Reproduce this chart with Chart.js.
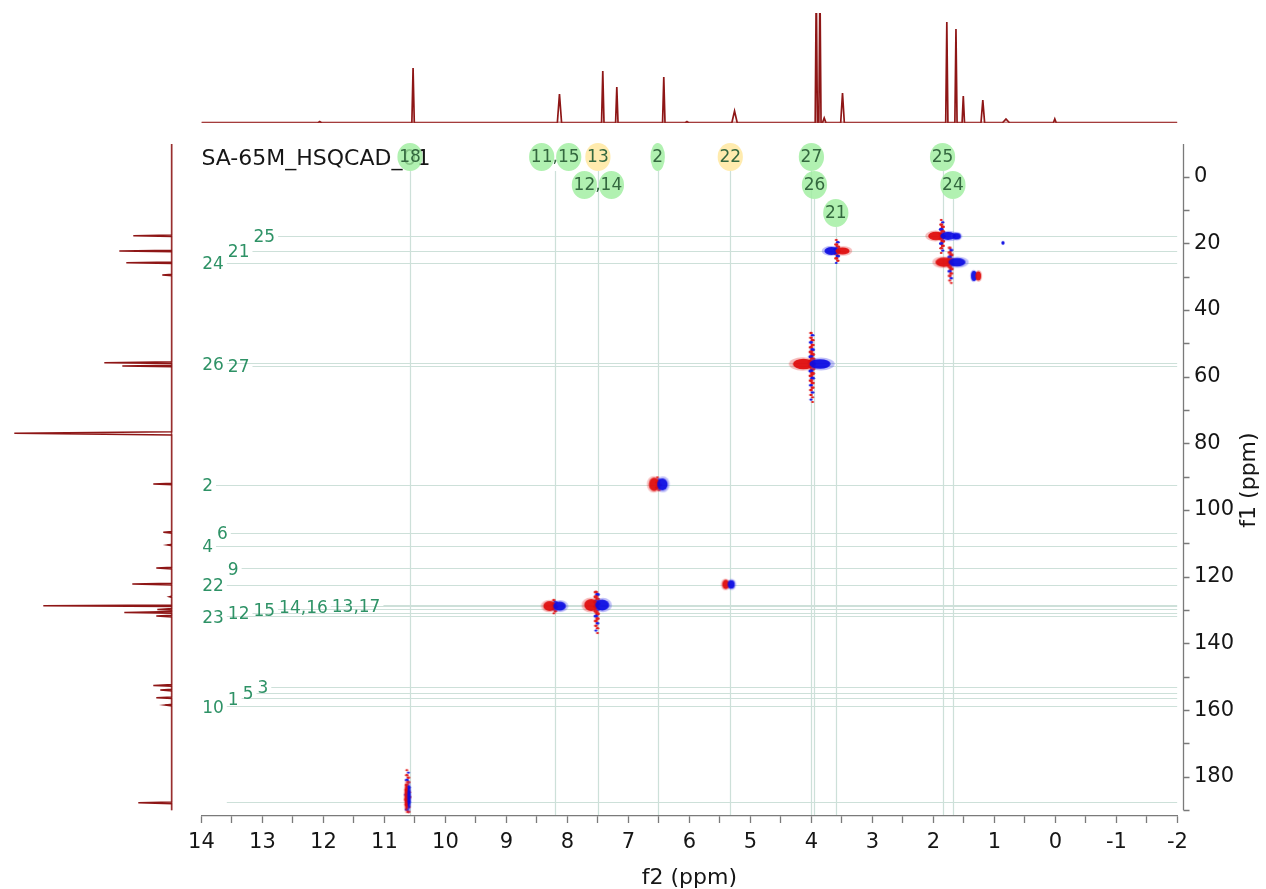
<!DOCTYPE html>
<html>
<head>
<meta charset="utf-8">
<title>HSQC SA-65M</title>
<script src="https://cdn.jsdelivr.net/npm/chart.js@4.4.1/dist/chart.umd.min.js"></script>
<style>
  html, body { margin: 0; padding: 0; background: #ffffff; }
  #wrap { position: relative; width: 1266px; height: 889px; overflow: hidden; }
  #wrap canvas { position: absolute; left: 0; top: 0; }
</style>
</head>
<body>
<div id="wrap">
  <canvas id="main" width="1266" height="889"></canvas>
  <canvas id="proton" width="1266" height="140"></canvas>
  <canvas id="carbon" width="200" height="889"></canvas>
</div>
<script>
// ---------------- spectrum data ----------------
const sampleName = 'SA-65M_HSQCAD_01';

// f2 (1H) projection: peak position (ppm), height, half base width (ppm)
const protonPeakPpm    = [12.06, 10.53, 8.13, 7.42, 7.19, 6.42, 6.04, 5.26, 3.92, 3.86, 3.79, 3.49, 1.78, 1.63, 1.51, 1.19, 0.81, 0.01];
const protonPeakHeight = [1.5, 55, 29, 52, 36, 46, 1.5, 12, 140, 140, 5, 30, 101, 94, 27, 23, 4, 4];
const protonPeakWidth  = [0.03, 0.02, 0.035, 0.02, 0.02, 0.02, 0.03, 0.045, 0.018, 0.018, 0.03, 0.03, 0.018, 0.018, 0.02, 0.03, 0.06, 0.025];

// f1 (13C) projection
const carbonPeakPpm    = [17.75, 22.34, 25.85, 29.54, 55.83, 56.82, 77.0, 92.2, 106.7, 110.5, 117.4, 122.2, 126.0, 128.7, 129.8, 130.7, 131.8, 152.6, 154.0, 156.3, 158.5, 187.8];
const carbonPeakHeight = [39, 53, 46, 10, 68, 50, 158, 19, 9, 5, 16, 40, 3, 129, 15, 48, 16, 19, 12, 16, 7, 34];
const carbonPeakWidth  = [0.25, 0.25, 0.25, 0.25, 0.25, 0.25, 0.5, 0.25, 0.25, 0.25, 0.25, 0.25, 0.25, 0.25, 0.25, 0.25, 0.25, 0.25, 0.25, 0.25, 0.25, 0.25];

// HSQC cross peaks: centre (1H, 13C), half widths, t1 streak extent, phase
const peakH      = [3.995, 6.51, 5.36, 8.21, 7.52, 10.62, 3.58, 1.86, 1.62, 1.72, 1.30, 0.86];
const peakC      = [56.2, 92.3, 122.3, 128.8, 128.5, 186.0, 22.3, 17.8, 17.9, 25.7, 29.8, 19.9];
const peakHW     = [0.30, 0.15, 0.10, 0.18, 0.20, 0.05, 0.20, 0.22, 0.07, 0.24, 0.08, 0.025];
const peakCW     = [1.6, 2.0, 1.4, 1.5, 1.8, 4.0, 1.2, 1.3, 1.0, 1.4, 1.5, 0.5];
const peakTailLo = [46.9, 90.2, 122.3, 127.0, 124.6, 178.0, 19.0, 13.0, 17.9, 21.4, 29.8, 19.9];
const peakTailHi = [67.6, 94.0, 122.3, 131.0, 136.9, 190.5, 25.9, 22.9, 17.9, 31.9, 29.8, 19.9];
const peakPhase  = [1, 1, 1, 1, 1, 1, -1, 1, 0, 1, -1, 0];   // 1: red|blue, -1: blue|red, 0: blue only

// 1H assignments (bubbles along the top)
const protonLabels = ['18', '11,15', '13', '12,14', '2', '22', '27', '26', '21', '25', '24'];
const protonShifts = [10.58, 8.20, 7.50, 7.50, 6.52, 5.33, 4.00, 3.95, 3.60, 1.85, 1.68];
const protonKind   = ['g', 'g', 'y', 'g', 'g', 'y', 'g', 'g', 'g', 'g', 'g'];

// 13C assignments (labels on the left)
const carbonLabels  = ['24', '21', '25', '26', '27', '2', '4', '6', '22', '9', '23', '12', '15', '14,16', '13,17', '10', '1', '5', '3', '18'];
const carbonShifts  = [25.9, 22.2, 17.7, 56.0, 56.7, 92.5, 110.7, 106.9, 122.5, 117.5, 131.9, 130.9, 129.8, 128.9, 128.6, 158.8, 156.5, 154.8, 153.0, 187.6];
const carbonVisible = [true, true, true, true, true, true, true, true, true, true, true, true, true, true, true, true, true, true, true, false];

// axis ranges
const f2Range = [-2, 14];
const f1Range = [-9.75, 191.75];
const f1AxisEnd = 190;

// ---------------- styles ----------------
const FONT = '"DejaVu Sans", Verdana, sans-serif';
const AXIS = '#7a7a7a';
const TEXT = '#161616';
const GUIDE = 'rgba(196,218,210,0.85)';
const SPEC = '#8e1616';
const SPEC_BASE_TOP = 'rgba(160,45,45,0.55)';
const SPEC_BASE_LEFT = 'rgba(140,22,22,0.8)';
const RED = 'rgba(224,12,12,0.93)';
const BLUE = 'rgba(12,12,226,0.93)';
const RED_HALO = 'rgba(230,70,70,0.35)';
const BLUE_HALO = 'rgba(70,70,235,0.35)';
const LABEL_FONT = '17px ' + FONT;
const LABEL_GREEN = '#2e9266';
const BUBBLE_TEXT = '#34683f';
const BUBBLE_FILL = { g: 'rgba(160,238,160,0.82)', y: 'rgba(255,232,160,0.85)' };

// ---------------- helpers ----------------
function spikeLine(pos, hts, wid, lo, hi, asY) {
  // ordered list of spike points on a flat baseline
  const idx = pos.map((_, i) => i).sort((a, b) => pos[a] - pos[b]);
  const pts = [];
  const push = (p, v) => pts.push(asY ? { x: v, y: p } : { x: p, y: v });
  push(lo, 0);
  idx.forEach(i => {
    push(pos[i] - wid[i], 0);
    push(pos[i], hts[i]);
    push(pos[i] + wid[i], 0);
  });
  push(hi, 0);
  return pts;
}

function ell(g, x, y, rx, ry) {
  g.beginPath();
  g.ellipse(x, y, Math.max(rx, 0.6), Math.max(ry, 0.6), 0, 0, Math.PI * 2);
  g.fill();
}

// contour sprite for one cross peak, sized through the chart's scales
function peakSprite(chart, i) {
  const xs = chart.scales.x, ys = chart.scales.y;
  const cx = xs.getPixelForValue(peakH[i]);
  const cy = ys.getPixelForValue(peakC[i]);
  const hw = Math.abs(xs.getPixelForValue(peakH[i] + peakHW[i]) - cx);
  const hh = Math.abs(ys.getPixelForValue(peakC[i] + peakCW[i]) - cy);
  const t0 = ys.getPixelForValue(peakTailLo[i]) - cy;
  const t1 = ys.getPixelForValue(peakTailHi[i]) - cy;
  if (![hw, hh, t0, t1].every(Number.isFinite)) return null;
  const W = Math.ceil(hw * 1.3 + 8);
  const H = Math.ceil(Math.max(hh * 1.3, -t0, t1) + 8);
  const c = document.createElement('canvas');
  c.width = 2 * W; c.height = 2 * H;
  const g = c.getContext('2d');
  g.filter = 'blur(0.6px)';
  g.translate(W, H);
  const ph = peakPhase[i];
  // t1 noise streak: a chain of small red / blue spots
  if (t1 - t0 > 1) {
    const n = Math.max(2, Math.round((t1 - t0) / 2.4));
    const reach = Math.max(-t0, t1);
    for (let k = 0; k <= n; k++) {
      const yy = t0 + (t1 - t0) * k / n;
      const f = 1 - 0.5 * Math.abs(yy) / reach;
      g.fillStyle = (k % 3 === 1) ? BLUE : RED;
      ell(g, (k % 2 ? 0.8 : -0.8), yy, 3.0 * f, 2.0 * f);
    }
  }
  if (ph === 0) {
    g.fillStyle = BLUE_HALO; ell(g, 0, 0, hw * 1.3, hh * 1.3);
    g.fillStyle = BLUE; ell(g, 0, 0, hw, hh);
  } else {
    const L = ph > 0 ? [RED, RED_HALO] : [BLUE, BLUE_HALO];
    const R = ph > 0 ? [BLUE, BLUE_HALO] : [RED, RED_HALO];
    g.fillStyle = L[1]; ell(g, -hw * 0.5, 0, hw * 0.75, hh * 1.25);
    g.fillStyle = R[1]; ell(g, hw * 0.5, 0, hw * 0.75, hh * 1.2);
    g.fillStyle = L[0]; ell(g, -hw * 0.45, 0, hw * 0.58, hh);
    g.fillStyle = R[0]; ell(g, hw * 0.45, 0, hw * 0.58, hh * 0.9);
  }
  return c;
}

let peakSprites = [];

function carbonLayout(ctx, ys, left) {
  ctx.font = LABEL_FONT;
  const out = [];
  let prevY = null, cursor = left;
  carbonLabels.forEach((t, i) => {
    const py = ys.getPixelForValue(carbonShifts[i]);
    if (prevY === null || Math.abs(py - prevY) > 20) cursor = left;
    const w = ctx.measureText(t).width;
    out.push({ t, px: cursor, py, w, show: carbonVisible[i] });
    cursor += w + 4;
    prevY = py;
  });
  return out;
}

function bubbleLayout(ctx, xs, rowTop, rowStep) {
  ctx.font = LABEL_FONT;
  const placed = [];
  return protonLabels.map((t, i) => {
    const px = xs.getPixelForValue(protonShifts[i]);
    const w = ctx.measureText(t).width;
    const x0 = px - w / 2 - 1.8, x1 = px + w / 2 + 1.8;
    let row = 0;
    while (placed.some(p => p.row === row && !(x1 + 2 <= p.x0 || x0 >= p.x1 + 2))) row++;
    placed.push({ row, x0, x1 });
    const parts = [];
    let off = 0;
    t.split(',').forEach((part, k, arr) => {
      const pw = ctx.measureText(part).width;
      parts.push({ cx: px - w / 2 + off + pw / 2, rx: pw / 2 + 1.8 });
      off += pw + (k < arr.length - 1 ? ctx.measureText(',').width : 0);
    });
    return { t, px, w, row, y: rowTop + row * rowStep, parts, kind: protonKind[i] };
  });
}

// ---------------- decorations for the 2D plot ----------------
const hsqcDecor = {
  id: 'hsqcDecor',
  afterLayout(chart) {
    peakSprites = peakH.map((_, i) => peakSprite(chart, i));
  },
  beforeDatasetsDraw(chart) {
    const { ctx, chartArea: a, scales: { x, y } } = chart;
    ctx.save();
    ctx.beginPath();
    ctx.rect(a.left, a.top, a.right - a.left, a.bottom - a.top);
    ctx.clip();
    ctx.strokeStyle = GUIDE;
    ctx.lineWidth = 1.2;
    ctx.beginPath();
    carbonLayout(ctx, y, a.left + 0.8).forEach(l => {
      const yy = Math.round(l.py) + 0.5;
      ctx.moveTo(l.px + l.w + 3, yy);
      ctx.lineTo(a.right, yy);
    });
    bubbleLayout(ctx, x, a.top + 13, 28).forEach(b => {
      const xx = Math.round(b.px) + 0.5;
      ctx.moveTo(xx, b.y + 14);
      ctx.lineTo(xx, a.bottom - 1);
    });
    ctx.stroke();
    ctx.restore();
  },
  afterDatasetsDraw(chart) {
    const { ctx, chartArea: a, scales: { x, y } } = chart;
    ctx.save();
    // sample name
    ctx.font = '22px ' + FONT;
    ctx.fillStyle = TEXT;
    ctx.textAlign = 'left';
    ctx.textBaseline = 'middle';
    ctx.fillText(sampleName, a.left, a.top + 15);

    // 1H assignment bubbles
    const bubbles = bubbleLayout(ctx, x, a.top + 13, 28);
    bubbles.forEach(b => {
      ctx.fillStyle = BUBBLE_FILL[b.kind];
      ctx.beginPath();
      b.parts.forEach(p => {
        ctx.moveTo(p.cx + p.rx, b.y);
        ctx.ellipse(p.cx, b.y, p.rx, 14, 0, 0, Math.PI * 2);
      });
      ctx.fill('nonzero');
    });
    ctx.font = LABEL_FONT;
    ctx.textAlign = 'center';
    ctx.textBaseline = 'middle';
    ctx.fillStyle = BUBBLE_TEXT;
    bubbles.forEach(b => ctx.fillText(b.t, b.px, b.y + 1));

    // 13C assignment labels
    ctx.textAlign = 'left';
    ctx.fillStyle = LABEL_GREEN;
    carbonLayout(ctx, y, a.left + 0.8).forEach(l => {
      if (l.show) ctx.fillText(l.t, l.px, l.py + 2);
    });

    // f1 axis line and tick marks
    const ax = Math.round(a.right + 6) + 0.5;
    ctx.strokeStyle = AXIS;
    ctx.lineWidth = 1.3;
    ctx.beginPath();
    ctx.moveTo(ax, a.top);
    ctx.lineTo(ax, y.getPixelForValue(f1AxisEnd));
    y.ticks.forEach(t => {
      if (t.value % 10 === 0 && t.value <= f1AxisEnd) {
        const py = Math.round(y.getPixelForValue(t.value)) + 0.5;
        ctx.moveTo(ax, py);
        ctx.lineTo(ax + 6, py);
      }
    });
    ctx.stroke();

    // f1 axis title
    ctx.translate(1249, (a.top + a.bottom) / 2);
    ctx.rotate(-Math.PI / 2);
    ctx.font = '22px ' + FONT;
    ctx.fillStyle = TEXT;
    ctx.textAlign = 'center';
    ctx.textBaseline = 'middle';
    ctx.fillText('f1 (ppm)', 0, 0);
    ctx.restore();
  }
};

Chart.defaults.font.family = FONT;

// ---------------- 2D HSQC plot ----------------
new Chart(document.getElementById('main'), {
  type: 'scatter',
  data: {
    datasets: [{
      data: peakH.map((h, i) => ({ x: h, y: peakC[i] })),
      pointRadius: 3,
      pointStyle: (ctx) => {
        const s = ctx.dataIndex === undefined ? null : peakSprites[ctx.dataIndex];
        return s && s.width > 0 && s.height > 0 ? s : 'circle';
      },
      backgroundColor: 'rgba(0,0,0,0)',
      borderColor: 'rgba(0,0,0,0)'
    }]
  },
  options: {
    responsive: false,
    devicePixelRatio: 1,
    animation: false,
    events: [],
    layout: { padding: { left: 201.4, top: 144, right: 0, bottom: 0 } },
    plugins: { legend: { display: false }, tooltip: { enabled: false } },
    scales: {
      x: {
        type: 'linear', min: f2Range[0], max: f2Range[1], reverse: true, position: 'bottom',
        afterFit: s => { s.height = 73; },
        border: { display: true, color: AXIS, width: 1.3 },
        grid: { display: true, drawOnChartArea: false, drawTicks: true, tickLength: 7, tickColor: AXIS, tickWidth: 1.3, color: AXIS },
        ticks: {
          stepSize: 0.5, autoSkip: false, maxRotation: 0, padding: 7.4, color: TEXT,
          font: { family: FONT, size: 21 },
          callback: v => (Number.isInteger(v) ? String(v) : '')
        },
        title: { display: true, text: 'f2 (ppm)', color: TEXT, font: { family: FONT, size: 22, lineHeight: 1 }, padding: { top: 0, bottom: 0 } }
      },
      y: {
        type: 'linear', min: f1Range[0], max: f1Range[1], reverse: true, position: 'right',
        afterFit: s => { s.width = 88.6; },
        border: { display: false },
        grid: { display: false, drawTicks: false },
        ticks: {
          stepSize: 10, includeBounds: false, autoSkip: false, padding: 16.6, color: TEXT,
          font: { family: FONT, size: 21 },
          callback: v => (v % 20 === 0 ? String(v) : '')
        }
      }
    }
  },
  plugins: [hsqcDecor]
});

// ---------------- f2 projection (top) ----------------
new Chart(document.getElementById('proton'), {
  type: 'scatter',
  data: {
    datasets: [
      { data: [{ x: f2Range[1], y: 0 }, { x: f2Range[0], y: 0 }], showLine: true, borderColor: SPEC_BASE_TOP, borderWidth: 3, pointRadius: 0 },
      { data: spikeLine(protonPeakPpm, protonPeakHeight, protonPeakWidth, f2Range[0], f2Range[1], false), showLine: true, borderColor: SPEC, borderWidth: 1.7, pointRadius: 0, tension: 0 }
    ]
  },
  options: {
    responsive: false, devicePixelRatio: 1, animation: false, events: [],
    layout: { padding: { left: 201.4, right: 88.6, top: 13, bottom: 17 } },
    plugins: { legend: { display: false }, tooltip: { enabled: false } },
    scales: {
      x: { type: 'linear', min: f2Range[0], max: f2Range[1], reverse: true, display: false },
      y: { type: 'linear', min: 0, max: 110, display: false }
    }
  }
});

// ---------------- f1 projection (left) ----------------
new Chart(document.getElementById('carbon'), {
  type: 'scatter',
  data: {
    datasets: [
      { data: [{ x: 0, y: -10 }, { x: 0, y: f1AxisEnd }], showLine: true, borderColor: SPEC_BASE_LEFT, borderWidth: 3, pointRadius: 0 },
      { data: spikeLine(carbonPeakPpm, carbonPeakHeight, carbonPeakWidth, -10, f1AxisEnd, true), showLine: true, borderColor: SPEC, borderWidth: 1.5, pointRadius: 0, tension: 0 }
    ]
  },
  options: {
    responsive: false, devicePixelRatio: 1, animation: false, events: [],
    layout: { padding: { left: 0, right: 27.7, top: 144, bottom: 73 } },
    plugins: { legend: { display: false }, tooltip: { enabled: false } },
    scales: {
      x: { type: 'linear', min: 0, max: 172.3, reverse: true, display: false },
      y: { type: 'linear', min: f1Range[0], max: f1Range[1], reverse: true, display: false }
    }
  }
});
</script>
</body>
</html>
